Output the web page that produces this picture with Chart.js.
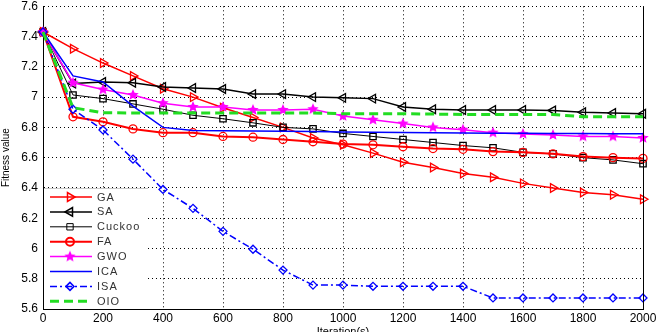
<!DOCTYPE html>
<html>
<head>
<meta charset="utf-8">
<script src="https://cdn.jsdelivr.net/npm/chart.js@4.4.0/dist/chart.umd.min.js"></script>
<style>
html, body { margin: 0; padding: 0; background: #fff; }
#wrap { width: 659px; height: 332px; position: relative; }
</style>
</head>
<body>
<div id="wrap"><canvas id="fitChart"></canvas></div>
<script>
const iterations = [0, 100, 200, 300, 400, 500, 600, 700, 800, 900, 1000, 1100, 1200, 1300, 1400, 1500, 1600, 1700, 1800, 1900, 2000];
const yTicks = [5.6, 5.8, 6, 6.2, 6.4, 6.6, 6.8, 7, 7.2, 7.4, 7.6];

const gaVals     = [7.43, 7.32, 7.225, 7.14, 7.055, 7.0, 6.93, 6.865, 6.80, 6.73, 6.685, 6.63, 6.57, 6.535, 6.495, 6.47, 6.43, 6.40, 6.37, 6.355, 6.325];
const saVals     = [7.43, 7.09, 7.1, 7.095, 7.067, 7.06, 7.054, 7.02, 7.02, 7.0, 6.995, 6.99, 6.935, 6.92, 6.915, 6.915, 6.915, 6.912, 6.9, 6.895, 6.89];
const cuckooVals = [7.43, 7.014, 6.99, 6.955, 6.92, 6.88, 6.857, 6.83, 6.8, 6.79, 6.76, 6.74, 6.72, 6.70, 6.68, 6.665, 6.635, 6.625, 6.6, 6.585, 6.56];
const faVals     = [7.43, 6.87, 6.837, 6.79, 6.765, 6.765, 6.74, 6.735, 6.72, 6.705, 6.69, 6.685, 6.672, 6.66, 6.655, 6.64, 6.635, 6.625, 6.607, 6.6, 6.595];
const gwoVals    = [7.43, 7.095, 7.05, 7.014, 6.96, 6.935, 6.935, 6.915, 6.915, 6.92, 6.875, 6.85, 6.825, 6.8, 6.785, 6.765, 6.757, 6.75, 6.74, 6.74, 6.73];
const icaVals    = [7.43, 7.14, 7.1, 6.94, 6.8, 6.78, 6.778, 6.776, 6.774, 6.772, 6.77, 6.768, 6.766, 6.764, 6.763, 6.762, 6.761, 6.76, 6.759, 6.758, 6.758];
const isaVals    = [7.43, 6.92, 6.783, 6.59, 6.39, 6.265, 6.113, 5.995, 5.857, 5.758, 5.758, 5.75, 5.75, 5.75, 5.75, 5.673, 5.673, 5.673, 5.673, 5.673, 5.673];
const oioVals    = [7.43, 6.93, 6.897, 6.895, 6.895, 6.895, 6.895, 6.895, 6.895, 6.895, 6.89, 6.89, 6.89, 6.888, 6.885, 6.885, 6.885, 6.885, 6.87, 6.87, 6.87];

function pts(vals) {
    return vals.map((v, i) => ({ x: iterations[i], y: v }));
}

// filled pentagram marker like matlab 'p'
function makeStar(color, r) {
    const c = document.createElement('canvas');
    c.width = r * 2 + 2; c.height = r * 2 + 2;
    const g = c.getContext('2d');
    g.fillStyle = color;
    g.beginPath();
    for (let k = 0; k < 10; k++) {
        const rr = k % 2 === 0 ? r : r * 0.45;
        const a = -Math.PI / 2 + k * Math.PI / 5;
        const px = r + 1 + rr * Math.cos(a), py = r + 1 + rr * Math.sin(a);
        if (k === 0) g.moveTo(px, py); else g.lineTo(px, py);
    }
    g.closePath();
    g.fill();
    return c;
}
const starMark = makeStar('#ff00ff', 6);

const none = 'rgba(0,0,0,0)';

const datasets = [
    { label: 'GA', data: pts(gaVals), borderColor: '#ff0000', borderWidth: 1.5, pointStyle: 'triangle', pointRotation: 90, pointRadius: 5, pointBorderWidth: 1.3, pointBackgroundColor: none },
    { label: 'SA', data: pts(saVals), borderColor: '#000000', borderWidth: 1.5, pointStyle: 'triangle', pointRotation: -90, pointRadius: 5, pointBorderWidth: 1.3, pointBackgroundColor: none },
    { label: 'Cuckoo', data: pts(cuckooVals), borderColor: '#000000', borderWidth: 1, pointStyle: 'rect', pointRadius: 4.5, pointBorderWidth: 1.3, pointBackgroundColor: none },
    { label: 'FA', data: pts(faVals), borderColor: '#ff0000', borderWidth: 2, pointStyle: 'circle', pointRadius: 4, pointBorderWidth: 1.3, pointBackgroundColor: none },
    { label: 'GWO', data: pts(gwoVals), borderColor: '#ff00ff', borderWidth: 1.5, pointStyle: starMark, pointRadius: 5, pointBorderWidth: 0, pointBackgroundColor: '#ff00ff' },
    { label: 'ICA', data: pts(icaVals), borderColor: '#0000ff', borderWidth: 1.5, pointRadius: 0 },
    { label: 'ISA', data: pts(isaVals), borderColor: '#0000ff', borderWidth: 1.5, borderDash: [7, 3, 2, 3], pointStyle: 'rectRot', pointRadius: 4, pointBorderWidth: 1.3, pointBackgroundColor: none },
    { label: 'OIO', data: pts(oioVals), borderColor: '#22dd22', borderWidth: 3, borderDash: [9, 5], pointRadius: 0 }
];
datasets.forEach((d, i) => {
    d.fill = false;
    d.tension = 0;
    d.clip = false;
    d.order = datasets.length - i;
    d.pointBorderColor = d.borderColor;
    d.pointHoverRadius = d.pointRadius;
});

// legend box in the lower left corner, matlab style
const boxLegend = {
    id: 'boxLegend',
    afterDatasetsDraw(chart) {
        const ctx = chart.ctx;
        const area = chart.chartArea;
        const x0 = area.left + 1, x1 = 148, y0 = 188, y1 = area.bottom - 1;
        ctx.save();
        ctx.fillStyle = '#fff';
        ctx.fillRect(x0, y0, x1 - x0, y1 - y0);
        ctx.strokeStyle = '#c8c8c8';
        ctx.lineWidth = 1;
        ctx.beginPath();
        ctx.moveTo(x0, y0 + 0.5); ctx.lineTo(x1, y0 + 0.5);
        ctx.stroke();
        chart.data.datasets.forEach((ds, i) => {
            const y = 197 + i * 14.9;
            ctx.strokeStyle = ds.borderColor;
            ctx.lineWidth = ds.borderWidth;
            ctx.setLineDash(ds.borderDash || []);
            ctx.beginPath();
            ctx.moveTo(50, y); ctx.lineTo(92, y);
            ctx.stroke();
            ctx.setLineDash([]);
            if (ds.pointRadius > 0) {
                ctx.strokeStyle = ds.borderColor;
                ctx.fillStyle = ds.pointBackgroundColor;
                Chart.helpers.drawPoint(ctx, {
                    pointStyle: ds.pointStyle,
                    radius: ds.pointRadius,
                    rotation: ds.pointRotation || 0,
                    borderWidth: ds.pointBorderWidth
                }, 70, y);
            }
            ctx.fillStyle = '#333';
            ctx.font = '11px "Liberation Sans", Arial, sans-serif';
            ctx.letterSpacing = '1px';
            ctx.textBaseline = 'middle';
            ctx.fillText(ds.label, 97, y + 0.5);
        });
        ctx.restore();
    }
};

const rightBorder = {
    id: 'rightBorder',
    afterDraw(chart) {
        const a = chart.chartArea;
        const ctx = chart.ctx;
        ctx.save();
        ctx.strokeStyle = '#000';
        ctx.lineWidth = 1;
        ctx.beginPath();
        ctx.moveTo(a.right + 0.5, a.top);
        ctx.lineTo(a.right + 0.5, a.bottom);
        ctx.stroke();
        ctx.restore();
    }
};

const tickFont = { family: '"Liberation Sans", Arial, sans-serif', size: 12 };

new Chart(document.getElementById('fitChart'), {
    type: 'line',
    data: { datasets: datasets },
    plugins: [boxLegend, rightBorder],
    options: {
        responsive: true,
        maintainAspectRatio: false,
        animation: false,
        layout: { padding: { top: 5, right: 16, left: 0, bottom: 0 } },
        plugins: { legend: { display: false }, tooltip: { enabled: false } },
        scales: {
            x: {
                type: 'linear', min: 0, max: 2000,
                ticks: { stepSize: 200, color: '#000', font: tickFont, padding: 2, maxRotation: 0, callback: v => String(v) },
                grid: { color: '#000', lineWidth: 1, drawTicks: false },
                border: { display: true, color: '#000', width: 1, dash: [1, 3] },
                title: { display: true, text: 'Iteration(s)', color: '#000', font: { family: '"Liberation Sans", Arial, sans-serif', size: 11 }, padding: { top: 0, bottom: -7 } },
                afterFit(scale) { scale.height = 23; scale.paddingLeft = 0; scale.paddingRight = 0; }
            },
            y: {
                min: 5.6, max: 7.6,
                afterBuildTicks(scale) { scale.ticks = yTicks.map(v => ({ value: v })); },
                ticks: { color: '#000', font: tickFont, padding: 5, callback: v => String(+v.toFixed(1)) },
                grid: { color: '#000', lineWidth: 1, drawTicks: false },
                border: { display: true, color: '#000', width: 1, dash: [1, 3] },
                title: { display: true, text: 'Fitness value', color: '#000', font: { family: '"Liberation Sans", Arial, sans-serif', size: 10 }, padding: { top: 0, bottom: 2 } },
                afterFit(scale) { scale.width = 43; scale.paddingTop = 0; scale.paddingBottom = 0; }
            }
        }
    }
});
</script>
</body>
</html>
